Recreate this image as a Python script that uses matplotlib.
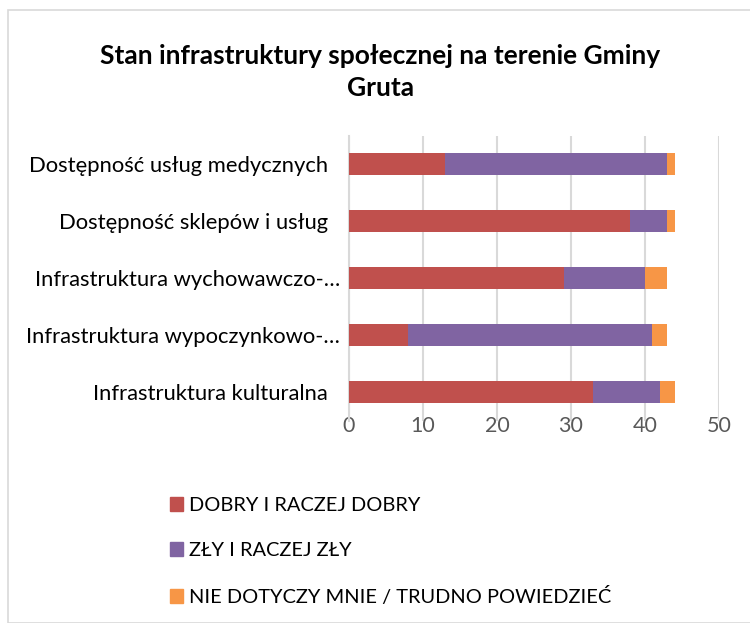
import matplotlib.pyplot as plt
from matplotlib.patches import Rectangle, Patch
from matplotlib.transforms import ScaledTranslation

plt.rcParams['font.family'] = ['Lato', 'DejaVu Sans']

categories = ['Dostępność usług medycznych',
              'Dostępność sklepów i usług',
              'Infrastruktura wychowawczo-…',
              'Infrastruktura wypoczynkowo-…',
              'Infrastruktura kulturalna']
dobry = [13, 38, 29, 8, 33]
zly = [30, 5, 11, 33, 9]
nie_dotyczy = [1, 1, 3, 2, 2]
series_names = ['DOBRY I RACZEJ DOBRY', 'ZŁY I RACZEJ ZŁY',
                'NIE DOTYCZY MNIE / TRUDNO POWIEDZIEĆ']
colors = ['#C0504D', '#8064A2', '#F79646']
xticks = [0, 10, 20, 30, 40, 50]

fig = plt.figure(figsize=(7.5, 6.23), dpi=100)
ax = fig.add_axes([349 / 750, 1 - 420.5 / 623, 370 / 750, 285 / 623])

y = list(range(len(categories)))
left = [0] * len(categories)
for vals, col, name in zip([dobry, zly, nie_dotyczy], colors, series_names):
    ax.barh(y, vals, left=left, height=0.4, color=col, label=name, zorder=3)
    left = [a + b for a, b in zip(left, vals)]

ax.set_xlim(0, 50)
ax.set_ylim(len(categories) - 0.5, -0.5)
ax.set_xticks(xticks)
ax.set_yticks(y)
ax.set_yticklabels(categories, fontsize=15.8, color='#000000')
ax.tick_params(axis='x', labelsize=15.5, labelcolor='#595959', length=0, pad=-3)
ax.tick_params(axis='y', length=0, pad=15)
# truncated labels sit a little further right, like in Excel
for lab in ax.get_yticklabels():
    if lab.get_text().endswith('…'):
        lab.set_transform(lab.get_transform() + ScaledTranslation(0.12, 0, fig.dpi_scale_trans))
ax.grid(axis='x', color='#D9D9D9', linewidth=1.5, zorder=0)
for s in ['top', 'right', 'bottom']:
    ax.spines[s].set_visible(False)
ax.spines['left'].set_color('#D9D9D9')
ax.spines['left'].set_linewidth(1.5)

fig.text(0.507, 1 - 72 / 623, 'Stan infrastruktury społecznej na terenie Gminy\nGruta',
         ha='center', va='center', fontsize=19, fontweight='bold',
         linespacing=1.45)

handles = [Patch(color=c) for c in colors]
fig.legend(handles, series_names, loc='upper left',
           bbox_to_anchor=(152 / 750, 1 - 479 / 623), frameon=False,
           fontsize=14.4, handlelength=0.65, handleheight=0.65,
           handletextpad=0.3, labelspacing=1.4)

fig.patches.append(Rectangle((8 / 750, 0), 1, 1 - 10 / 623, transform=fig.transFigure,
                             fill=False, edgecolor='#D9D9D9', linewidth=1.2))

fig.savefig('out.png', dpi=100)
